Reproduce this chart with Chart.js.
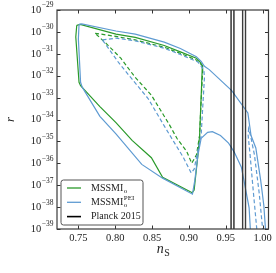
<!DOCTYPE html>
<html>
<head>
<meta charset="utf-8">
<script src="https://cdn.jsdelivr.net/npm/chart.js@4.4.1/dist/chart.umd.min.js"></script>
<style>
  html, body { margin: 0; padding: 0; background: #fff; }
</style>
</head>
<body>
<canvas id="chart" width="276" height="273"></canvas>
<script>
// ── Data (n_s, r) ─────────────────────────────────────────────────
var X_TICKS = [0.75, 0.80, 0.85, 0.90, 0.95, 1.00];
var X_TICK_LABELS = ['0.75', '0.80', '0.85', '0.90', '0.95', '1.00'];
var Y_TICKS = [1e-29, 1e-30, 1e-31, 1e-32, 1e-33, 1e-34, 1e-35, 1e-36, 1e-37, 1e-38, 1e-39];
var Y_TICK_EXP = ['29', '30', '31', '32', '33', '34', '35', '36', '37', '38', '39'];

var GREEN_SOLID_NS = [0.7478, 0.7525, 0.8010, 0.8272, 0.8665, 0.8884, 0.9101, 0.9145, 0.9188, 0.9180,
  0.9166, 0.9145, 0.9123, 0.9071, 0.9045, 0.8643, 0.8491, 0.8229, 0.8010, 0.7792, 0.7530, 0.7509, 0.7465, 0.7478];
var GREEN_SOLID_R = [2.0e-30, 2.2e-30, 7.9e-31, 5.6e-31, 2.4e-31, 1.23e-31, 6.3e-32, 4.5e-32, 2.7e-32, 1.8e-32,
  1.1e-33, 1.86e-35, 2.45e-36, 6.0e-38, 4.5e-38, 2.3e-37, 1.8e-36, 1.12e-35, 7.2e-35, 3.9e-34, 3.5e-33, 5.0e-33, 5.9e-31, 2.0e-30];

var GREEN_DASH_NS = [0.7726, 0.8010, 0.8272, 0.8665, 0.8884, 0.9101, 0.9175, 0.9188, 0.9182, 0.9162, 0.9145,
  0.9103, 0.9038, 0.8970, 0.8839, 0.8730, 0.8491, 0.8272, 0.8076, 0.7880, 0.7726];
var GREEN_DASH_R = [8.7e-31, 6.2e-31, 4.3e-31, 2.0e-31, 1.05e-31, 5.2e-32, 3.1e-32, 1.9e-32, 8.3e-33, 3.9e-34, 1.86e-35,
  2.45e-36, 1.0e-36, 3.5e-36, 1.35e-35, 6.2e-35, 1.29e-33, 8.3e-33, 6.3e-32, 2.9e-31, 8.7e-31];

var BLUE_SOLID_NS = [0.7509, 0.7545, 0.8010, 0.8272, 0.8665, 0.8884, 0.9101, 0.9166, 0.9211, 0.9276, 0.9581,
  0.9800, 0.9843, 0.9908, 0.9974, 1.0017, 1.0039, 1.0052, 0.9843, 0.9817, 0.9755, 0.9712, 0.9620, 0.9581, 0.9538,
  0.9428, 0.9319, 0.9254, 0.9166, 0.9123, 0.9080, 0.9048, 0.8643, 0.8360, 0.8010, 0.7792, 0.7552, 0.7530, 0.7500, 0.7509];
var BLUE_SOLID_R = [2.2e-30, 2.3e-30, 1.1e-30, 7.9e-31, 3.4e-31, 1.74e-31, 7.4e-32, 4.5e-32, 2.7e-32, 1.9e-32, 2.1e-33,
  2.0e-34, 1.86e-35, 5.0e-36, 1.66e-37, 1.15e-38, 1.0e-39, 2.7e-40, 2.7e-40, 9.3e-39, 1.17e-37, 6.6e-37, 3.0e-36, 5.0e-36, 8.3e-36,
  1.86e-35, 2.8e-35, 2.6e-35, 1.38e-35, 2.45e-36, 1.66e-37, 3.9e-38, 2.1e-37, 8.9e-37, 2.2e-35, 1.4e-34, 3.0e-33, 5.0e-33, 4.8e-31, 2.2e-30];

var BLUE_DASH_NS = [0.7827, 0.8010, 0.8272, 0.8665, 0.8884, 0.9123, 0.9202, 0.9211, 0.9188, 0.9166, 0.9110,
  0.9071, 0.9031, 0.8927, 0.8796, 0.8665, 0.8446, 0.8229, 0.8050, 0.7880, 0.7827];
var BLUE_DASH_R = [4.3e-31, 5.2e-31, 3.9e-31, 1.8e-31, 9.3e-32, 4.2e-32, 1.9e-32, 8.3e-33, 3.9e-34, 1.86e-35, 2.45e-36,
  5.4e-37, 3.6e-37, 1.8e-36, 9.5e-36, 5.1e-35, 9.1e-34, 6.9e-33, 3.8e-32, 2.4e-31, 4.3e-31];

var BLUE_TONGUE_NS = [0.9930, 0.9921, 0.9876, 0.9830, 0.9804, 0.9810, 0.9836, 0.9889, 0.9954, 1.0000, 1.0008];
var BLUE_TONGUE_R = [2.5e-40, 1.0e-39, 4.3e-38, 2.45e-36, 1.86e-35, 3.8e-35, 1.86e-35, 2.45e-36, 4.3e-38, 1.0e-39, 2.5e-40];

var PLANCK_NS = [0.9572, 0.9611, 0.9729, 0.9768];
var PLANCK_R = [1e-40, 1e-28];

var GREEN = '#2a9a2a';
var BLUE = '#5f9bd2';
var SERIF = '"Liberation Serif", "DejaVu Serif", serif';

function pts(xs, ys) {
  return xs.map(function (x, i) { return { x: x, y: ys[i] }; });
}

function curve(xs, ys, color, dash, order) {
  return {
    data: pts(xs, ys),
    borderColor: color,
    borderWidth: 1.2,
    borderDash: dash || [],
    pointRadius: 0,
    showLine: true,
    tension: 0,
    fill: false,
    order: order
  };
}

var datasets = [
  curve(GREEN_SOLID_NS, GREEN_SOLID_R, GREEN, null, 6),
  curve(GREEN_DASH_NS, GREEN_DASH_R, GREEN, [4, 2.5], 5),
  curve(BLUE_SOLID_NS, BLUE_SOLID_R, BLUE, null, 4),
  curve(BLUE_DASH_NS, BLUE_DASH_R, BLUE, [4, 2.5], 3),
  curve(BLUE_TONGUE_NS, BLUE_TONGUE_R, BLUE, [4, 2.5], 3)
];
PLANCK_NS.forEach(function (ns, i) {
  var d = curve([ns, ns], PLANCK_R, i < 2 ? '#000' : '#3c3c3c', null, 1);
  d.borderWidth = i < 2 ? 1.2 : 1.4;
  datasets.push(d);
});

/** Draw "base" then a small raised/lowered text, returns end x */
function richText(ctx, x, y, base, size, sub, sup, italic) {
  ctx.font = (italic ? 'italic ' : '') + size + 'px ' + SERIF;
  ctx.fillText(base, x, y);
  var w = ctx.measureText(base).width;
  var end = x + w;
  ctx.font = Math.round(size * 0.7) + 'px ' + SERIF;
  if (sub) {
    ctx.fillText(sub, x + w + 0.5, y + size * 0.3);
    end = Math.max(end, x + w + 0.5 + ctx.measureText(sub).width);
  }
  if (sup) {
    ctx.fillText(sup, x + w + 0.5, y - size * 0.38);
    end = Math.max(end, x + w + 0.5 + ctx.measureText(sup).width);
  }
  return end;
}

var decor = {
  id: 'decor',
  afterDraw: function (chart) {
    var ctx = chart.ctx, a = chart.chartArea;
    var sx = chart.scales.x, sy = chart.scales.y;
    ctx.save();
    ctx.strokeStyle = '#333';
    ctx.lineWidth = 1;
    ctx.beginPath();
    X_TICKS.forEach(function (v) {
      var px = Math.round(sx.getPixelForValue(v)) + 0.5;
      ctx.moveTo(px, a.bottom); ctx.lineTo(px, a.bottom - 3.5);
      ctx.moveTo(px, a.top); ctx.lineTo(px, a.top + 3.5);
    });
    Y_TICKS.forEach(function (v) {
      var py = Math.round(sy.getPixelForValue(v)) + 0.5;
      ctx.moveTo(a.left, py); ctx.lineTo(a.left + 3.5, py);
      ctx.moveTo(a.right, py); ctx.lineTo(a.right - 3.5, py);
    });
    ctx.stroke();

    // frame
    ctx.strokeStyle = '#3a3a3a';
    ctx.lineWidth = 1.2;
    ctx.strokeRect(a.left, a.top, a.right - a.left, a.bottom - a.top);

    // tick labels
    ctx.fillStyle = '#222';
    ctx.textBaseline = 'middle';
    ctx.textAlign = 'center';
    ctx.font = '10.5px ' + SERIF;
    X_TICKS.forEach(function (v, i) {
      ctx.fillText(X_TICK_LABELS[i], sx.getPixelForValue(v), a.bottom + 9);
    });
    ctx.textAlign = 'right';
    Y_TICKS.forEach(function (v, i) {
      var py = sy.getPixelForValue(v);
      var supTxt = '\u2212' + Y_TICK_EXP[i];
      ctx.font = '7.5px ' + SERIF;
      var sw = ctx.measureText(supTxt).width;
      ctx.fillText(supTxt, a.left - 3.5, py - 4.5);
      ctx.font = '10.5px ' + SERIF;
      ctx.fillText('10', a.left - 3.5 - sw - 0.5, py);
    });

    // axis titles
    ctx.textAlign = 'left';
    richText(ctx, (a.left + a.right) / 2 - 6, a.bottom + 20, 'n', 14, 'S', null, true);
    ctx.save();
    ctx.translate(11, (a.top + a.bottom) / 2);
    ctx.rotate(-Math.PI / 2);
    ctx.textAlign = 'center';
    ctx.font = 'italic 13px ' + SERIF;
    ctx.fillText('r', 0, 0);
    ctx.restore();

    // legend
    var bx = a.left + 4, by = a.bottom - 49, bw = 82, bh = 45;
    ctx.beginPath();
    ctx.roundRect(bx, by, bw, bh, 2.5);
    ctx.fillStyle = 'rgba(255,255,255,0.9)';
    ctx.fill();
    ctx.strokeStyle = '#555';
    ctx.lineWidth = 1;
    ctx.stroke();

    var entries = [
      { color: GREEN, width: 1.3, base: 'MSSMI', sub: 'o', sup: null },
      { color: BLUE, width: 1.3, base: 'MSSMI', sub: 'o', sup: 'PEI' },
      { color: '#000', width: 1.6, base: 'Planck 2015', sub: null, sup: null }
    ];
    entries.forEach(function (e, i) {
      var ey = by + 8 + i * 14.3;
      ctx.strokeStyle = e.color;
      ctx.lineWidth = e.width;
      ctx.beginPath();
      ctx.moveTo(bx + 6, ey); ctx.lineTo(bx + 20, ey);
      ctx.stroke();
      ctx.fillStyle = '#222';
      ctx.textAlign = 'left';
      richText(ctx, bx + 30, ey, e.base, 10, e.sub, e.sup, false);
    });
    ctx.restore();
  }
};

new Chart(document.getElementById('chart'), {
  type: 'scatter',
  data: { datasets: datasets },
  options: {
    responsive: false,
    animation: false,
    layout: { padding: { left: 49, top: 10, right: 7.5, bottom: 36 } },
    plugins: { legend: { display: false }, tooltip: { enabled: false } },
    scales: {
      x: {
        type: 'linear', min: 0.721, max: 1.008,
        grid: { display: false }, border: { display: false },
        ticks: { display: false }
      },
      y: {
        type: 'logarithmic', min: 1e-39, max: 1e-29,
        grid: { display: false }, border: { display: false },
        ticks: { display: false }
      }
    }
  },
  plugins: [decor]
});
</script>
</body>
</html>
